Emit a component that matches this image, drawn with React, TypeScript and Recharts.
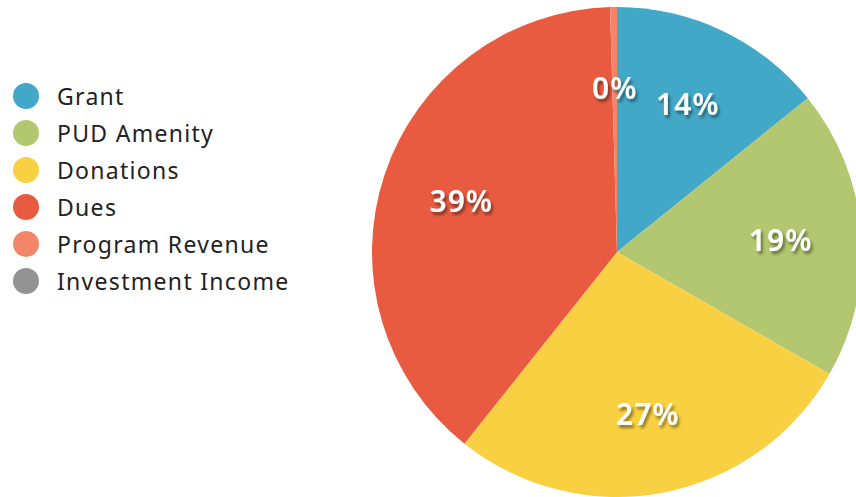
import { PieChart, Pie, Cell } from 'recharts';

const categories = ["Grant", "PUD Amenity", "Donations", "Dues", "Program Revenue", "Investment Income"];
const shares = [14.2, 19.1, 27.4, 38.85, 0.45, 0];
const colors = ["#42A8C8", "#B2C76F", "#F9D041", "#E95B41", "#F38669", "#939393"];

const data = categories.map((name, i) => ({ name, value: shares[i] }));

const RADIAN = Math.PI / 180;

function renderLabel(props: any) {
    const { cx, cy, midAngle, outerRadius, percent, value } = props;
    if (!value) return null;
    const r = outerRadius * 0.67;
    const x = cx + r * Math.cos(-midAngle * RADIAN);
    const y = cy + r * Math.sin(-midAngle * RADIAN);
    return (
        <text x={x} y={y} fill="#fff" textAnchor="middle" dominantBaseline="central"
            fontFamily="Noto Sans" fontWeight={600} fontSize={30} letterSpacing={1}
            filter="url(#lblShadow)">
            {Math.round(percent * 100)}%
        </text>
    );
}

function LegendBox() {
    return (
        <div style={{ position: "absolute", left: 0, top: 77, fontFamily: "Noto Sans", fontSize: 23, color: "#222", letterSpacing: 1.3 }}>
            {categories.map((c, i) =>
                <div key={c} style={{ display: "flex", alignItems: "center", height: 37 }}>
                    <span style={{ width: 26, height: 26, borderRadius: 13, background: colors[i], marginLeft: 13, marginRight: 18 }} />
                    <span>{c}</span>
                </div>
            )}
        </div>
    );
}

export default function App() {
    return (
        <div style={{ position: "absolute", left: 0, top: 0, width: 856, height: 497, background: "#fff" }}>
            <PieChart width={856} height={497}>
                <defs>
                    <filter id="lblShadow" x="-20%" y="-20%" width="150%" height="160%">
                        <feDropShadow dx="2" dy="3" stdDeviation="1.5" floodColor="#000" floodOpacity="0.45" />
                    </filter>
                </defs>
                <Pie data={data} dataKey="value" nameKey="name" cx={612} cy={247} outerRadius={245}
                    startAngle={90} endAngle={-270} stroke="none" label={renderLabel} labelLine={false}
                    isAnimationActive={false}>
                    {data.map((d, i) => <Cell key={d.name} fill={colors[i]} />)}
                </Pie>
            </PieChart>
            <LegendBox />
        </div>
    );
}
